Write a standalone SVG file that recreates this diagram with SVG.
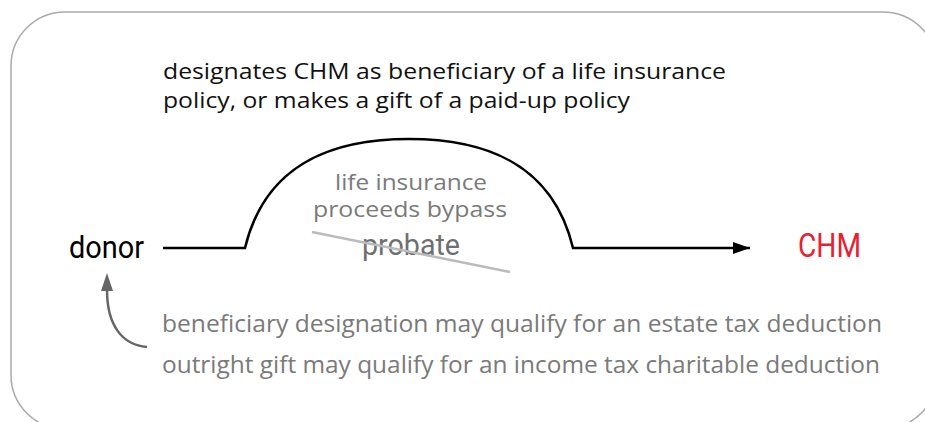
<svg xmlns="http://www.w3.org/2000/svg" width="925" height="422" viewBox="0 0 925 422">
<style>
.sans{font-family:"Open Sans","Noto Sans","Liberation Sans",sans-serif;font-size:22px}
.big{font-size:24px}
.cond{font-family:Roboto,"Liberation Sans Narrow","Liberation Sans",sans-serif}
.gray{fill:#7a7a7a}
.line{fill:none;stroke:#000;stroke-width:2.5}
</style>
<defs>
<marker id="ah" markerWidth="18" markerHeight="12" refX="17" refY="6" orient="auto" markerUnits="userSpaceOnUse">
<path d="M0,0 L17,6 L0,12 Z" fill="#000"/>
</marker>
</defs>
<rect x="11" y="12" width="926" height="417" rx="54" ry="54" fill="#fff" stroke="#aaa" stroke-width="1.5"/>
<g id="note-top">
<text class="sans" x="163" y="79" fill="#111" textLength="563" lengthAdjust="spacingAndGlyphs">designates CHM as beneficiary of a life insurance</text>
<text class="sans" x="163" y="108" fill="#111" textLength="467" lengthAdjust="spacingAndGlyphs">policy, or makes a gift of a paid-up policy</text>
</g>
<g id="donor">
<text class="cond" x="69" y="258" font-size="32" fill="#000" textLength="75" lengthAdjust="spacingAndGlyphs">donor</text>
</g>
<g id="chm">
<text class="cond" x="798" y="257" font-size="33" fill="#e8202f" textLength="63" lengthAdjust="spacingAndGlyphs">CHM</text>
</g>
<g id="probate-note">
<text class="sans gray" x="411" y="190" text-anchor="middle" textLength="152" lengthAdjust="spacingAndGlyphs">life insurance</text>
<text class="sans gray" x="410" y="217" text-anchor="middle" textLength="194" lengthAdjust="spacingAndGlyphs">proceeds bypass</text>
<text class="cond" x="411" y="255" font-size="30" fill="#6f6f6f" text-anchor="middle" textLength="98" lengthAdjust="spacingAndGlyphs">probate</text>
<line x1="312" y1="232" x2="510" y2="272" stroke="#bbb" stroke-width="2.5"/>
</g>
<g id="tax-notes">
<text class="sans big gray" x="162" y="332" textLength="720" lengthAdjust="spacingAndGlyphs">beneficiary designation may qualify for an estate tax deduction</text>
<text class="sans big gray" x="162" y="373" textLength="718" lengthAdjust="spacingAndGlyphs">outright gift may qualify for an income tax charitable deduction</text>
</g>
<g id="connectors">
<path class="line" d="M163,248 L245,248 C265,165 330,139 409,139 C488,139 553,165 573,248 L750,248" marker-end="url(#ah)"/>
<path d="M147,347 C122,345 107,325 107,290" fill="none" stroke="#666" stroke-width="2.5"/>
<path d="M101,291 L107,273 L113,291 Z" fill="#666"/>
</g>
</svg>
